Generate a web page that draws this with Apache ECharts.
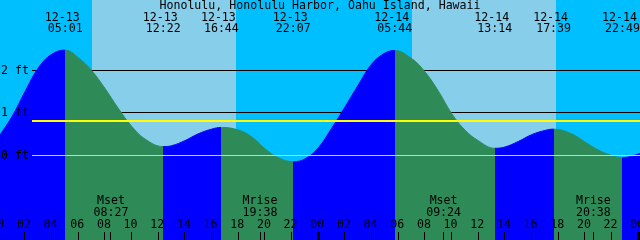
<!DOCTYPE html>
<html><head><meta charset="utf-8">
<script src="https://cdn.jsdelivr.net/npm/echarts@6/dist/echarts.min.js"></script>
<style>html,body{margin:0;padding:0;background:#fff}#c{width:640px;height:240px}</style>
</head><body><div id="c"></div>
<script>
// ---- data (hours counted from 12-13 00:00 local) ----
const titleText = 'Honolulu, Honolulu Harbor, Oahu Island, Hawaii';
const tideTimes   = [0, 1, 2, 3, 4, 5.017, 6, 7, 8, 9, 10, 11, 12.367, 13, 14, 15, 16, 16.733, 18, 19, 20, 21, 22.117, 23,
                     24, 25, 26, 27, 28, 29, 29.733, 31, 32, 33, 34, 35, 36, 37.233, 38, 39, 40, 41, 41.65, 43, 44, 45, 46, 46.817, 48.13];
const tideHeights = [0.43, 0.90, 1.50, 2.06, 2.38, 2.48, 2.30, 2.00, 1.58, 1.11, 0.69, 0.39, 0.21, 0.23, 0.35, 0.51, 0.62, 0.66, 0.60, 0.44, 0.16, -0.05, -0.146, -0.08,
                     0.18, 0.64, 1.14, 1.66, 2.15, 2.41, 2.47, 2.28, 1.97, 1.52, 0.99, 0.60, 0.35, 0.17, 0.20, 0.33, 0.49, 0.59, 0.62, 0.51, 0.32, 0.13, 0.0, -0.05, 0.05];
const extremaTimes = [5.017, 12.367, 16.733, 22.117, 29.733, 37.233, 41.65, 46.817];
const extremaTypes = ['H', 'L', 'H', 'L', 'H', 'L', 'H', 'L'];
const extremaDates = ['12-13', '12-13', '12-13', '12-13', '12-14', '12-14', '12-14', '12-14'];
const extremaClock = ['05:01', '12:22', '16:44', '22:07', '05:44', '13:14', '17:39', '22:49'];
const sunriseTimes = [7.03, 31.03];
const sunsetTimes  = [17.83, 41.83];
const moonTimes = [8.45, 19.633, 33.4, 44.633];
const moonKinds = ['Mset', 'Mrise', 'Mset', 'Mrise'];
const moonClock = ['08:27', '19:38', '09:24', '20:38'];
const depthTicks  = [0, 1, 2];
const depthLabels = ['0 ft', '1 ft', '2 ft'];
const mslHeight = 0.81;
const hourTicks  = [0, 2, 4, 6, 8, 10, 12, 14, 16, 18, 20, 22, 24, 26, 28, 30, 32, 34, 36, 38, 40, 42, 44, 46, 48];
const hourLabels = ['00','02','04','06','08','10','12','14','16','18','20','22','00','02','04','06','08','10','12','14','16','18','20','22','00'];

// ---- styling ----
const X_MIN = 0.13, X_MAX = 48.13;
const Y_MAX = 155.5 / 42.5, Y_MIN = Y_MAX - 240 / 42.5;
const FONT = '11.6px "DejaVu Sans Mono", monospace';
const RISE = '#0000FF', FALL = '#2E8B57', DAY = '#87CEEB', NIGHT = '#00BFFF';

const pieces = [];
let prev = -Infinity;
extremaTimes.forEach((t, i) => {
  const rising = extremaTypes[i] === 'H';
  const p = { lt: t, color: rising ? RISE : FALL };
  if (prev !== -Infinity) p.gte = prev;
  pieces.push(p);
  prev = t;
});
pieces.push({ gte: prev, color: extremaTypes[extremaTypes.length - 1] === 'H' ? FALL : RISE });

function txt(x, y, s, align) {
  return { type: 'text', x: x, y: y, style: { text: s, font: FONT, fill: '#000', textAlign: align || 'center', textVerticalAlign: 'middle' } };
}
function snap(v) { return Math.floor(v - 0.01) + 0.5; }

const chart = echarts.init(document.getElementById('c'), null, { renderer: 'canvas' });
chart.setOption({
  animation: false,
  backgroundColor: NIGHT,
  title: { text: titleText, left: 'center', top: 0, padding: [0, 0, 0, 0],
           textStyle: { fontFamily: '"DejaVu Sans Mono", monospace', fontSize: 11.6, fontWeight: 'normal', color: '#000', lineHeight: 12 } },
  grid: { left: 0, right: 0, top: 0, bottom: 0, show: false },
  xAxis: { type: 'value', min: X_MIN, max: X_MAX, show: false },
  yAxis: { type: 'value', min: Y_MIN, max: Y_MAX, show: false },
  visualMap: { type: 'piecewise', show: false, dimension: 0, seriesIndex: 2, pieces: pieces },
  series: [
    { // day background
      type: 'custom', z: 0, silent: true,
      data: sunriseTimes.map((t, i) => [t, sunsetTimes[i]]),
      renderItem(params, api) {
        const cs = params.coordSys;
        const a = Math.round(api.coord([api.value(0), 0])[0]);
        const b = Math.round(api.coord([api.value(1), 0])[0]);
        return { type: 'rect', shape: { x: a, y: cs.y, width: b - a, height: cs.height }, style: { fill: DAY } };
      }
    },
    { // depth lines behind the tide
      type: 'custom', z: 1, silent: true,
      data: depthTicks.filter(v => v !== 0).map(v => [X_MIN, v]),
      renderItem(params, api) {
        const cs = params.coordSys;
        const y = snap(api.coord([X_MIN, api.value(1)])[1]);
        return { type: 'line', shape: { x1: cs.x + 32, y1: y, x2: cs.x + cs.width, y2: y }, style: { stroke: '#000', lineWidth: 1 } };
      }
    },
    { // tide curve
      type: 'line', z: 2, silent: true, smooth: 0.4, symbol: 'none',
      data: tideTimes.map((t, i) => [t, tideHeights[i]]),
      lineStyle: { width: 1 },
      areaStyle: { opacity: 1, origin: 'start' }
    },
    { // datum + mean sea level lines
      type: 'custom', z: 3, silent: true,
      data: [[X_MIN, 0], [X_MIN, mslHeight]],
      renderItem(params, api) {
        const cs = params.coordSys;
        const isMsl = params.dataIndex === 1;
        let y = api.coord([X_MIN, api.value(1)])[1];
        y = isMsl ? Math.round(y) : snap(y);
        return { type: 'line', shape: { x1: cs.x + 32, y1: y, x2: cs.x + cs.width, y2: y },
                 style: { stroke: isMsl ? '#FFFF00' : '#A8DDEE', lineWidth: isMsl ? 2 : 1 } };
      }
    },
    { // depth labels
      type: 'custom', z: 4, silent: true,
      data: depthTicks.map(v => [X_MIN, v]),
      renderItem(params, api) {
        const cs = params.coordSys;
        const y = snap(api.coord([X_MIN, api.value(1)])[1]);
        return txt(cs.x + 1, y, depthLabels[params.dataIndex], 'left');
      }
    },
    { // tide extrema labels
      type: 'custom', z: 4, silent: true,
      data: extremaTimes.map(t => [t, 0]),
      renderItem(params, api) {
        const x = api.coord([api.value(0), 0])[0];
        const i = params.dataIndex;
        return { type: 'group', children: [
          txt(x - 3, 17.5, extremaDates[i]),
          txt(x, 29.2, extremaClock[i])
        ] };
      }
    },
    { // moon events
      type: 'custom', z: 4, silent: true,
      data: moonTimes.map(t => [t, 0]),
      renderItem(params, api) {
        const x = api.coord([api.value(0), 0])[0];
        const i = params.dataIndex;
        return { type: 'group', children: [
          txt(x, 201.3, moonKinds[i]),
          txt(x, 213.3, moonClock[i]),
          { type: 'rect', shape: { x: Math.floor(x), y: 232, width: 1, height: 8 }, style: { fill: '#000' } }
        ] };
      }
    },
    { // hour ticks and labels
      type: 'custom', z: 4, silent: true,
      data: hourTicks.map(t => [t, 0]),
      renderItem(params, api) {
        const x = api.coord([api.value(0), 0])[0];
        const i = params.dataIndex;
        const midnight = hourTicks[i] % 24 === 0;
        return { type: 'group', children: [
          txt(x - 1, 225.3, hourLabels[i]),
          { type: 'rect', shape: { x: Math.floor(x) - (midnight ? 1 : 0), y: 232, width: midnight ? 3 : 1, height: 8 }, style: { fill: '#000' } }
        ] };
      }
    }
  ]
});
</script>
</body></html>
